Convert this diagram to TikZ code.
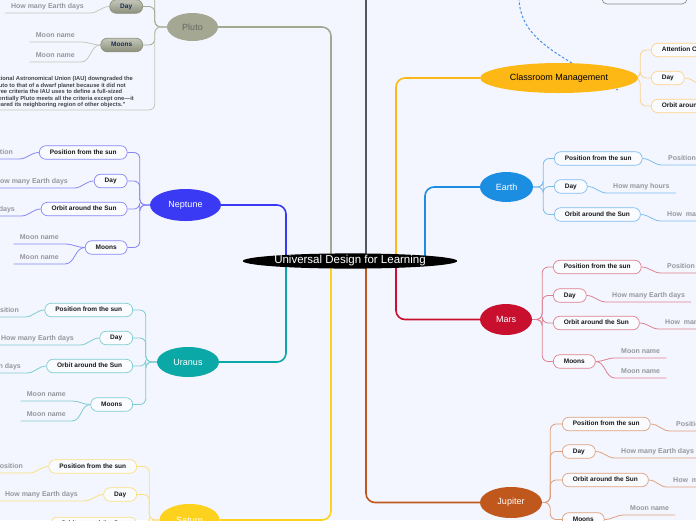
\documentclass[tikz,border=0pt]{standalone}
\usepackage{fontspec}
\setmainfont{Liberation Sans}
\usetikzlibrary{shapes.geometric}
\definecolor{udlbg}{RGB}{243,246,254}
\definecolor{leafgray}{RGB}{150,150,158}
\definecolor{notegray}{RGB}{70,70,75}
\definecolor{topgray}{RGB}{84,87,91}
\definecolor{relblue}{RGB}{74,144,226}
\definecolor{plutoc}{RGB}{164,168,146}
\definecolor{plutodark}{RGB}{140,144,124}
\definecolor{plutotext}{RGB}{100,103,95}
\definecolor{plutonavy}{RGB}{28,44,92}
\definecolor{plutob}{RGB}{196,199,186}
\definecolor{neptunec}{RGB}{58,58,244}
\definecolor{neptuneb}{RGB}{135,135,246}
\definecolor{uranusc}{RGB}{10,168,166}
\definecolor{uranusb}{RGB}{124,205,208}
\definecolor{saturnc}{RGB}{253,210,30}
\definecolor{saturnb}{RGB}{251,224,128}
\definecolor{jupiterc}{RGB}{192,88,30}
\definecolor{jupiterb}{RGB}{222,160,126}
\definecolor{marsc}{RGB}{200,16,46}
\definecolor{marsb}{RGB}{222,128,144}
\definecolor{earthc}{RGB}{28,142,226}
\definecolor{earthb}{RGB}{125,189,240}
\definecolor{classc}{RGB}{253,184,22}
\definecolor{classb}{RGB}{252,210,140}

\pgfdeclarelayer{background}
\pgfsetlayers{background,main}

\tikzset{
  rootnode/.style={ellipse,fill=black,text=white,inner sep=0pt,minimum width=214pt,minimum height=14pt,font=\fontsize{11.5}{12}\selectfont},
  planet/.style={ellipse,fill=#1,text=white,inner sep=0pt,font=\fontsize{9}{10}\selectfont},
  topic/.style={draw=#1,fill=white!55!udlbg,rounded corners=6.5pt,line width=0.7pt,inner xsep=10.5pt,inner ysep=0pt,minimum height=13.5pt,text height=4.8pt,text depth=1.4pt,font=\fontsize{6.5}{7}\selectfont\bfseries,text=black!90},
  plutotopic/.style={topic=plutodark,top color=plutob,bottom color=plutodark,text=plutonavy},
  leaf/.style={inner xsep=6pt,inner ysep=3pt,font=\fontsize{7}{8}\selectfont\bfseries,text=leafgray},
  leafr/.style={leaf,anchor=south west,text height=5pt,text depth=1.4pt},
  leafl/.style={leaf,anchor=south east,text height=5pt,text depth=1.4pt},
  note/.style={leaf,anchor=south east,align=left,inner ysep=2pt,font=\fontsize{5.8}{6.5}\selectfont\bfseries,text=notegray},
  trunk/.style={draw=#1,line width=1.6pt,rounded corners=9pt},
  spine/.style={draw=#1,line width=0.8pt,rounded corners=6pt},
  twig/.style={draw=#1,line width=0.8pt},
  relation/.style={draw=relblue,line width=1pt,dash pattern=on 2.5pt off 2pt},
}

\begin{document}
\begin{tikzpicture}[x=1pt,y=-1pt]
  \useasboundingbox (0,0) rectangle (696,520);
  \begin{pgfonlayer}{background}
    \fill[udlbg] (0,0) rectangle (696,520);
  \end{pgfonlayer}

  % Central topic
  \node[rootnode] (root) at (350,261) {Universal Design for Learning};

  % Main branches
  \node[planet=plutoc,text=plutotext,minimum width=51pt,minimum height=28pt] (pluto) at (192.5,27) {Pluto};
  \node[planet=neptunec,minimum width=71pt,minimum height=32pt] (neptune) at (185.5,205) {Neptune};
  \node[planet=uranusc,minimum width=62pt,minimum height=30pt] (uranus) at (188,362) {Uranus};
  \node[planet=saturnc,minimum width=60pt,minimum height=32pt] (saturn) at (189.5,520) {Saturn};
  \node[planet=jupiterc,minimum width=62pt,minimum height=31pt] (jupiter) at (511,502.5) {Jupiter};
  \node[planet=marsc,minimum width=52pt,minimum height=31pt] (mars) at (506,319.5) {Mars};
  \node[planet=earthc,minimum width=53pt,minimum height=30pt] (earth) at (506.5,187) {Earth};
  \node[planet=classc,text=black,minimum width=158pt,minimum height=30pt] (classroom) at (559,78) {Classroom Management};
  \node[draw=black!45,line width=0.7pt,rounded corners=5pt,minimum width=85pt,minimum height=24pt] (topbox) at (644.5,-8) {};

  % Pluto
  \node[plutotopic,anchor=east] (pday) at (143,6.5) {Day};
  \node[plutotopic,anchor=east] (pmoons) at (143,45) {Moons};
  \node[leafl] (pdayleaf) at (90,13) {How many Earth days};
  \node[leafl] (pmoonleafa) at (81,42) {Moon name};
  \node[leafl] (pmoonleafb) at (81,62) {Moon name};
  \node[note] (pnote) at (140,110) {The International Astronomical Union (IAU) downgraded the\\
    status of Pluto to that of a dwarf planet because it did not\\
    meet the three criteria the IAU uses to define a full-sized\\
    planet. Essentially Pluto meets all the criteria except one---it\\
    ``has not cleared its neighboring region of other objects.''};

  % Neptune
  \node[topic=neptuneb,anchor=east] (npos) at (127.5,152.5) {Position from the sun};
  \node[topic=neptuneb,anchor=east] (nday) at (127.5,181) {Day};
  \node[topic=neptuneb,anchor=east] (norb) at (127.5,209) {Orbit around the Sun};
  \node[topic=neptuneb,anchor=east] (nmoons) at (127.5,247.5) {Moons};
  \node[leafl] (nposleaf) at (19,159) {Position};
  \node[leafl] (ndayleaf) at (74,188) {How many Earth days};
  \node[leafl] (norbleaf) at (21,216) {How many Earth days};
  \node[leafl] (nmoonleafa) at (65,244) {Moon name};
  \node[leafl] (nmoonleafb) at (65,264) {Moon name};

  % Uranus
  \node[topic=uranusb,anchor=east] (upos) at (133,310) {Position from the sun};
  \node[topic=uranusb,anchor=east] (uday) at (133,338) {Day};
  \node[topic=uranusb,anchor=east] (uorb) at (133,366) {Orbit around the Sun};
  \node[topic=uranusb,anchor=east] (umoons) at (133,404.5) {Moons};
  \node[leafl] (uposleaf) at (25,317) {Position};
  \node[leafl] (udayleaf) at (80,345) {How many Earth days};
  \node[leafl] (uorbleaf) at (27,373) {How many Earth days};
  \node[leafl] (umoonleafa) at (72,401) {Moon name};
  \node[leafl] (umoonleafb) at (72,421) {Moon name};

  % Saturn
  \node[topic=saturnb,anchor=east] (spos) at (137,466.5) {Position from the sun};
  \node[topic=saturnb,anchor=east] (sday) at (137,494.5) {Day};
  \node[topic=saturnb,anchor=east] (sorb) at (137,524) {Orbit around the Sun};
  \node[leafl] (sposleaf) at (29,473) {Position};
  \node[leafl] (sdayleaf) at (84,501) {How many Earth days};

  % Classroom Management
  \node[topic=classb,anchor=west] (cattn) at (651,50) {Attention Checks};
  \node[topic=classb,anchor=west] (cday) at (651,78) {Day};
  \node[topic=classb,anchor=west] (corb) at (651,106) {Orbit around the Sun};

  % Earth
  \node[topic=earthb,anchor=west] (epos) at (554,158.5) {Position from the sun};
  \node[topic=earthb,anchor=west] (eday) at (554,186.5) {Day};
  \node[topic=earthb,anchor=west] (eorb) at (554,214.5) {Orbit around the Sun};
  \node[leafr] (eposleaf) at (662,165) {Position};
  \node[leafr] (edayleaf) at (607,193) {How many hours};
  \node[leafr] (eorbleaf) at (661,221) {How\ \ many Earth days};

  % Mars
  \node[topic=marsb,anchor=west] (mpos) at (553,267) {Position from the sun};
  \node[topic=marsb,anchor=west] (mday) at (553,295.5) {Day};
  \node[topic=marsb,anchor=west] (morb) at (553,323) {Orbit around the Sun};
  \node[topic=marsb,anchor=west] (mmoons) at (553,361.5) {Moons};
  \node[leafr] (mposleaf) at (661,273) {Position};
  \node[leafr] (mdayleaf) at (606,302) {How many Earth days};
  \node[leafr] (morbleaf) at (659,329) {How\ \ many Earth days};
  \node[leafr] (mmoonleafa) at (615,358) {Moon name};
  \node[leafr] (mmoonleafb) at (615,378) {Moon name};

  % Jupiter
  \node[topic=jupiterb,anchor=west] (jpos) at (562,424) {Position from the sun};
  \node[topic=jupiterb,anchor=west] (jday) at (562,451.5) {Day};
  \node[topic=jupiterb,anchor=west] (jorb) at (562,480) {Orbit around the Sun};
  \node[topic=jupiterb,anchor=west] (jmoons) at (562,519.5) {Moons};
  \node[leafr] (jposleaf) at (670,431) {Position};
  \node[leafr] (jdayleaf) at (615,458) {How many Earth days};
  \node[leafr] (jorbleaf) at (667,487) {How\ \ many Earth days};
  \node[leafr] (jmoonleafa) at (624,515) {Moon name};

  % Junctions and loose ends
  \coordinate (plutoj) at ([xshift=-12pt]pluto.west);
  \coordinate (neptunej) at ([xshift=-10pt]neptune.west);
  \coordinate (uranusj) at ([xshift=-11pt]uranus.west);
  \coordinate (saturnj) at ([xshift=-10pt]saturn.west);
  \coordinate (classj) at ([xshift=2pt]classroom.east);
  \coordinate (earthj) at ([xshift=10pt]earth.east);
  \coordinate (marsj) at ([xshift=10pt]mars.east);
  \coordinate (jupiterj) at ([xshift=8pt]jupiter.east);
  \coordinate (pabove) at (143,-25);
  \coordinate (topend) at (366,-5);
  \coordinate (cdayend) at (706,86);
  \coordinate (relstart) at (519,-2);
  \coordinate (relend) at (618,90);

  \begin{pgfonlayer}{background}
    % trunks from the central topic
    \draw[trunk=plutoc] ([xshift=-19pt]root.center) |- (pluto.east);
    \draw[trunk=neptunec] ([xshift=-64pt]root.center) |- (neptune.east);
    \draw[trunk=uranusc] ([xshift=-64pt]root.center) |- (uranus.east);
    \draw[trunk=saturnc] ([xshift=-19pt]root.center) |- (saturn.east);
    \draw[trunk=topgray] ([xshift=16pt]root.center) -- (topend);
    \draw[trunk=jupiterc] ([xshift=16pt]root.center) |- (jupiter.west);
    \draw[trunk=classc] ([xshift=46pt]root.center) |- (classroom.west);
    \draw[trunk=marsc] ([xshift=46pt]root.center) |- (mars.west);
    \draw[trunk=earthc] ([xshift=75pt]root.center) |- (earth.west);
    % relationship
    \draw[relation] (relstart) .. controls (520,40) and (560,55) .. (relend);

    % Pluto
    \foreach \t in {pday,pmoons}
      \draw[spine=plutoc] (pluto.west) -- (plutoj) |- (\t.east);
    \draw[spine=plutoc] (pluto.west) -- (plutoj) |- (pabove);
    \draw[spine=plutob] (pluto.west) -- (plutoj) |- (pnote.south east) -- (pnote.south west);
    \draw[twig=plutob] (pday.west) to[out=180,in=0] (pdayleaf.south east) -- (pdayleaf.south west);
    \foreach \l in {pmoonleafa,pmoonleafb}
      \draw[twig=plutob] (pmoons.west) to[out=180,in=0] (\l.south east) -- (\l.south west);

    % Neptune
    \foreach \t in {npos,nday,norb,nmoons}
      \draw[spine=neptuneb] (neptune.west) -- (neptunej) |- (\t.east);
    \draw[twig=neptuneb] (npos.west) to[out=180,in=0] (nposleaf.south east) -- (nposleaf.south west);
    \draw[twig=neptuneb] (nday.west) to[out=180,in=0] (ndayleaf.south east) -- (ndayleaf.south west);
    \draw[twig=neptuneb] (norb.west) to[out=180,in=0] (norbleaf.south east) -- (norbleaf.south west);
    \foreach \l in {nmoonleafa,nmoonleafb}
      \draw[twig=neptuneb] (nmoons.west) to[out=180,in=0] (\l.south east) -- (\l.south west);

    % Uranus
    \foreach \t in {upos,uday,uorb,umoons}
      \draw[spine=uranusb] (uranus.west) -- (uranusj) |- (\t.east);
    \draw[twig=uranusb] (upos.west) to[out=180,in=0] (uposleaf.south east) -- (uposleaf.south west);
    \draw[twig=uranusb] (uday.west) to[out=180,in=0] (udayleaf.south east) -- (udayleaf.south west);
    \draw[twig=uranusb] (uorb.west) to[out=180,in=0] (uorbleaf.south east) -- (uorbleaf.south west);
    \foreach \l in {umoonleafa,umoonleafb}
      \draw[twig=uranusb] (umoons.west) to[out=180,in=0] (\l.south east) -- (\l.south west);

    % Saturn
    \foreach \t in {spos,sday,sorb}
      \draw[spine=saturnb] (saturn.west) -- (saturnj) |- (\t.east);
    \draw[twig=saturnb] (spos.west) to[out=180,in=0] (sposleaf.south east) -- (sposleaf.south west);
    \draw[twig=saturnb] (sday.west) to[out=180,in=0] (sdayleaf.south east) -- (sdayleaf.south west);

    % Classroom Management
    \foreach \t in {cattn,cday,corb}
      \draw[spine=classb] (classroom.east) -- (classj) |- (\t.west);
    \draw[twig=classb] (cday.east) to[out=0,in=180] (cdayend);

    % Earth
    \foreach \t in {epos,eday,eorb}
      \draw[spine=earthb] (earth.east) -- (earthj) |- (\t.west);
    \draw[twig=earthb] (epos.east) to[out=0,in=180] (eposleaf.south west) -- (eposleaf.south east);
    \draw[twig=earthb] (eday.east) to[out=0,in=180] (edayleaf.south west) -- (edayleaf.south east);
    \draw[twig=earthb] (eorb.east) to[out=0,in=180] (eorbleaf.south west) -- (eorbleaf.south east);

    % Mars
    \foreach \t in {mpos,mday,morb,mmoons}
      \draw[spine=marsb] (mars.east) -- (marsj) |- (\t.west);
    \draw[twig=marsb] (mpos.east) to[out=0,in=180] (mposleaf.south west) -- (mposleaf.south east);
    \draw[twig=marsb] (mday.east) to[out=0,in=180] (mdayleaf.south west) -- (mdayleaf.south east);
    \draw[twig=marsb] (morb.east) to[out=0,in=180] (morbleaf.south west) -- (morbleaf.south east);
    \foreach \l in {mmoonleafa,mmoonleafb}
      \draw[twig=marsb] (mmoons.east) to[out=0,in=180] (\l.south west) -- (\l.south east);

    % Jupiter
    \foreach \t in {jpos,jday,jorb,jmoons}
      \draw[spine=jupiterb] (jupiter.east) -- (jupiterj) |- (\t.west);
    \draw[twig=jupiterb] (jpos.east) to[out=0,in=180] (jposleaf.south west) -- (jposleaf.south east);
    \draw[twig=jupiterb] (jday.east) to[out=0,in=180] (jdayleaf.south west) -- (jdayleaf.south east);
    \draw[twig=jupiterb] (jorb.east) to[out=0,in=180] (jorbleaf.south west) -- (jorbleaf.south east);
    \draw[twig=jupiterb] (jmoons.east) to[out=0,in=180] (jmoonleafa.south west) -- (jmoonleafa.south east);
  \end{pgfonlayer}
\end{tikzpicture}
\end{document}
